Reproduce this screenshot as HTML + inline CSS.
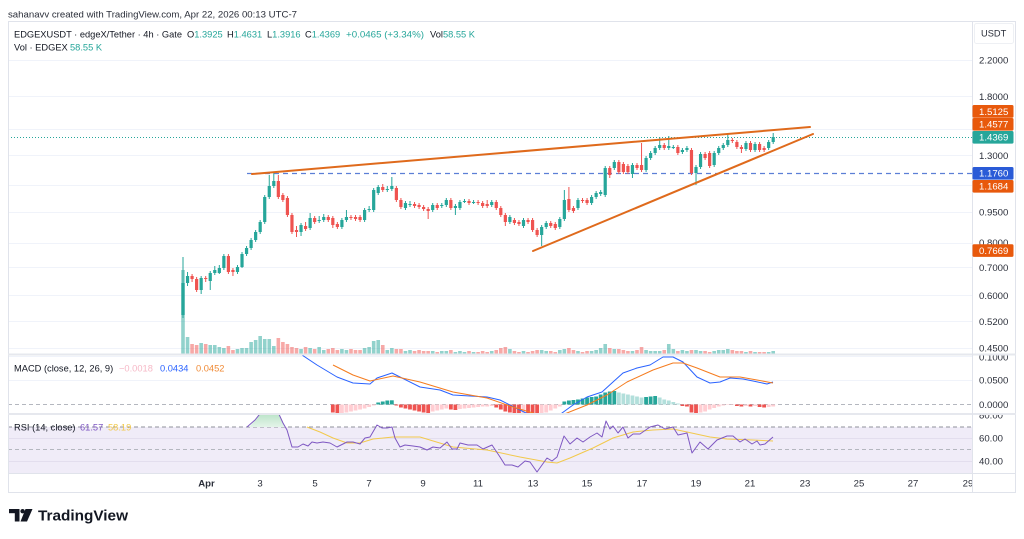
<!DOCTYPE html>
<html><head><meta charset="utf-8"><title>EDGEXUSDT chart</title>
<style>
html,body{margin:0;padding:0;background:#fff;}
body{width:1024px;height:539px;overflow:hidden;}
svg{display:block;font-family:"Liberation Sans",Arial,sans-serif;}
</style></head><body>
<svg id="s" width="1024" height="539" viewBox="0 0 1024 539" xmlns="http://www.w3.org/2000/svg">
<defs>
<clipPath id="cm"><rect x="8" y="22" width="964" height="332"/></clipPath>
<clipPath id="cmacd"><rect x="8" y="355.5" width="964" height="57.5"/></clipPath>
<clipPath id="crsi"><rect x="8" y="415" width="964" height="58"/></clipPath>
<clipPath id="cax1"><rect x="973" y="355.5" width="43" height="57.5"/></clipPath>
<clipPath id="cax2"><rect x="973" y="415" width="43" height="58"/></clipPath>
<clipPath id="ctime"><rect x="8" y="474" width="964" height="19"/></clipPath>
<linearGradient id="gf" x1="0" y1="0" x2="0" y2="1"><stop offset="0" stop-color="#a9dcba"/><stop offset="1" stop-color="#e4f4e9"/></linearGradient>
</defs>
<rect width="1024" height="539" fill="#fff"/>

<text x="8" y="17.3" font-size="9.6" fill="#2a2e39" textLength="289" lengthAdjust="spacingAndGlyphs">sahanavv created with TradingView.com, Apr 22, 2026 00:13 UTC-7</text>

<!-- main grid -->
<g stroke="#f0f3fa" stroke-width="1">
<line x1="8" x2="972" y1="60.5" y2="60.5"/>
<line x1="8" x2="972" y1="96.5" y2="96.5"/>
<line x1="8" x2="972" y1="129.5" y2="129.5"/>
<line x1="8" x2="972" y1="155.5" y2="155.5"/>
<line x1="8" x2="972" y1="185.5" y2="185.5"/>
<line x1="8" x2="972" y1="212.5" y2="212.5"/>
<line x1="8" x2="972" y1="243.5" y2="243.5"/>
<line x1="8" x2="972" y1="267.5" y2="267.5"/>
<line x1="8" x2="972" y1="295.5" y2="295.5"/>
<line x1="8" x2="972" y1="321.5" y2="321.5"/>
<line x1="8" x2="972" y1="348.5" y2="348.5"/>
<line x1="8" x2="972" y1="380.5" y2="380.5"/>
<line x1="8" x2="972" y1="356.5" y2="356.5"/>
</g>

<!-- RSI background -->
<rect x="8" y="427" width="964" height="46" fill="#f0ecf8"/>
<line x1="8" x2="972" y1="438.5" y2="438.5" stroke="#e3deee"/>
<line x1="8" x2="972" y1="461.5" y2="461.5" stroke="#e3deee"/>
<line x1="8" x2="972" y1="427" y2="427" stroke="#8f929b" stroke-dasharray="4 3"/>
<line x1="8" x2="972" y1="449.5" y2="449.5" stroke="#b4b7bf" stroke-dasharray="4 3"/>
<line x1="8" x2="972" y1="404.5" y2="404.5" stroke="#b4b7bf" stroke-dasharray="4 3"/>

<!-- legend -->
<g font-size="9.3" fill="#131722">
<text x="14" y="37.3" textLength="168" lengthAdjust="spacingAndGlyphs">EDGEXUSDT · edgeX/Tether · 4h · Gate</text>
<text x="187" y="37.3">O<tspan fill="#26a69a">1.3925</tspan></text>
<text x="227" y="37.3">H<tspan fill="#26a69a">1.4631</tspan></text>
<text x="267" y="37.3">L<tspan fill="#26a69a">1.3916</tspan></text>
<text x="305" y="37.3">C<tspan fill="#26a69a">1.4369</tspan></text>
<text x="346" y="37.3" fill="#26a69a" textLength="78" lengthAdjust="spacingAndGlyphs">+0.0465 (+3.34%)</text>
<text x="430" y="37.3">Vol<tspan fill="#26a69a">58.55 K</tspan></text>
<text x="14" y="50.5">Vol · EDGEX</text>
<text x="70" y="50.5" fill="#26a69a">58.55 K</text>
</g>

<!-- horizontal lines -->
<line x1="8" x2="972" y1="137.5" y2="137.5" stroke="#26a69a" stroke-width="1" stroke-dasharray="1 2"/>
<line x1="247" x2="972" y1="173.5" y2="173.5" stroke="#5c7fd6" stroke-width="1.2" stroke-dasharray="5 4"/>

<g id="vol" clip-path="url(#cm)"></g>
<g id="candles" clip-path="url(#cm)"></g>

<!-- trendlines -->
<g stroke-linecap="round">
<line x1="252" y1="174" x2="810" y2="127" stroke="#df6a1c" stroke-width="2"/>
<line x1="533" y1="251" x2="813" y2="134" stroke="#df6a1c" stroke-width="2"/>
</g>

<!-- MACD -->
<g id="hist" clip-path="url(#cmacd)"></g>
<g clip-path="url(#cmacd)" fill="none" stroke-width="1" stroke-linejoin="round">
<polyline stroke="#2962ff" points="296,346 302,355 317,365 337,377 353,383 370,384 377,378 392,373 400,377 420,387 440,390 453,395 487,397 500,400 520,410 530,415 545,420 555,418 562,413 573,405 587,397 602,392 613,382 623,373 637,368 650,365 663,357 673,357 683,362 697,377 710,383 720,382 730,378 743,379 753,381 767,384 773,382"/>
<polyline stroke="#f57c1f" points="333,365 353,375 370,381 393,376 420,382 453,392 487,398 513,407 543,416 555,417 567,413 587,405 607,395 627,382 653,370 673,363 683,363 697,368 720,377 740,377 757,380 773,383"/>
</g>
<g font-size="9.3">
<text x="14" y="371.3" fill="#131722">MACD (close, 12, 26, 9)</text>
<text x="119" y="371.3" fill="#f6b8c6">−0.0018</text>
<text x="160" y="371.3" fill="#2962ff">0.0434</text>
<text x="196" y="371.3" fill="#f08a35">0.0452</text>
</g>

<!-- RSI -->
<g clip-path="url(#crsi)">
<polygon points="249,427 255,420 263,410 270,408 278,412 283,423 285,427" fill="url(#gf)"/>
<polyline fill="none" stroke="#f2c94c" stroke-width="1" points="307,427 320,432 333,438 347,443 360,443 373,439 393,437 420,437 453,447 487,450 520,457 547,462 557,463 570,458 593,448 613,438 633,432 653,430 673,429 687,432 710,437 727,439 753,440 773,441"/>
<polyline fill="none" stroke="#7e57c2" stroke-width="1" stroke-linejoin="round" points="247,427 255,420 263,410 270,408 278,412 283,423 287,430 292,447 298,447 303,444 308,446 312,442 317,443 323,442 330,443 337,447 347,442 353,442 360,444 365,438 370,437 377,425 382,428 387,428 392,427 395,438 400,447 405,445 413,446 420,447 427,450 433,447 440,448 447,442 452,449 457,449 460,443 468,445 477,445 483,449 492,445 500,457 505,465 512,465 518,467 525,461 530,462 537,472 547,458 552,461 557,457 564,436 570,444 577,438 583,442 590,437 597,433 602,437 606,421 610,429 613,426 618,433 623,427 628,438 633,434 640,434 650,427 658,425 665,429 673,427 678,435 687,433 692,453 700,442 708,449 717,440 727,436 733,436 740,442 745,439 752,444 757,441 760,445 765,444 773,437"/>
</g>
<g font-size="9.3">
<text x="14" y="430.3" fill="#131722">RSI (14, close)</text>
<text x="80" y="430.3" fill="#7e57c2">61.57</text>
<text x="108" y="430.3" fill="#f2c94c">58.19</text>
</g>

<!-- frame / separators -->
<rect x="8.5" y="21.5" width="1007" height="471" fill="none" stroke="#e0e3eb"/>
<line x1="8" x2="1016" y1="354.5" y2="354.5" stroke="#e6e8ee" stroke-width="2"/>
<line x1="8" x2="1016" y1="414" y2="414" stroke="#e6e8ee" stroke-width="2"/>
<line x1="8" x2="1016" y1="473.5" y2="473.5" stroke="#e0e3eb"/>
<line x1="972.5" x2="972.5" y1="21.5" y2="492.5" stroke="#e0e3eb"/>

<!-- price axis -->
<rect x="974.5" y="23.5" width="39" height="20" rx="2" fill="none" stroke="#eef0f4"/>
<g font-size="9.6" fill="#2a2e39">
<text x="981" y="36.5" font-size="9.3">USDT</text>
<text x="979" y="63.5">2.2000</text>
<text x="979" y="99.8">1.8000</text>
<text x="979" y="158.8">1.3000</text>
<text x="979" y="215.6">0.9500</text>
<text x="979" y="245.8">0.8000</text>
<text x="979" y="271">0.7000</text>
<text x="979" y="299">0.6000</text>
<text x="979" y="325">0.5200</text>
<text x="979" y="351.3">0.4500</text>
<g clip-path="url(#cax1)">
<text x="979" y="360.3">0.1000</text>
<text x="979" y="383.5">0.0500</text>
<text x="979" y="408">0.0000</text>
</g>
<g clip-path="url(#cax2)">
<text x="979" y="418.5">80.00</text>
<text x="979" y="441.5">60.00</text>
<text x="979" y="464.5">40.00</text>
</g>
</g>
<g font-size="9.6" fill="#fff">
<rect x="972.5" y="105" width="41" height="12.8" rx="1.5" fill="#e8590c"/>
<text x="979" y="114.8">1.5125</text>
<rect x="972.5" y="118" width="41" height="12.6" rx="1.5" fill="#e8590c"/>
<text x="979" y="127.6">1.4577</text>
<rect x="972.5" y="131" width="41" height="12.6" rx="1.5" fill="#26a69a"/>
<text x="979" y="140.6">1.4369</text>
<rect x="972.5" y="167" width="41" height="12.6" rx="1.5" fill="#2a5bd7"/>
<text x="979" y="176.6">1.1760</text>
<rect x="972.5" y="180" width="41" height="12.6" rx="1.5" fill="#e8590c"/>
<text x="979" y="189.6">1.1684</text>
<rect x="972.5" y="244.3" width="41" height="12.6" rx="1.5" fill="#e8590c"/>
<text x="979" y="253.9">0.7669</text>
</g>

<!-- time axis -->
<g font-size="9.6" fill="#2a2e39" text-anchor="middle" clip-path="url(#ctime)">
<text x="206.5" y="486.5" font-weight="bold">Apr</text>
<text x="260" y="486.5">3</text>
<text x="315" y="486.5">5</text>
<text x="369" y="486.5">7</text>
<text x="423" y="486.5">9</text>
<text x="478" y="486.5">11</text>
<text x="533" y="486.5">13</text>
<text x="587" y="486.5">15</text>
<text x="642" y="486.5">17</text>
<text x="696" y="486.5">19</text>
<text x="750" y="486.5">21</text>
<text x="805" y="486.5">23</text>
<text x="859" y="486.5">25</text>
<text x="913" y="486.5">27</text>
<text x="968" y="486.5">29</text>
</g>

<!-- TradingView logo -->
<g fill="#131722">
<rect x="9" y="509" width="10.5" height="4.2"/>
<rect x="14.8" y="509" width="4.7" height="12.5"/>
<circle cx="22.6" cy="511.2" r="2.2"/>
<polygon points="25.5,509 32.5,509 27,521.5 20.5,521.5"/>
<text x="38" y="520.5" font-size="15.2" font-weight="bold" textLength="90" lengthAdjust="spacingAndGlyphs">TradingView</text>
</g>
</svg>
<script>
(function(){
var NS="http://www.w3.org/2000/svg";
var D=[[315,283,257,318],[283,276,272,286],[276,279,274,282],[279,290,277,292],[290,278,276,294],[278,279,276,282],[281,273,271,290],[273,270,266,275],[273,268,265,274],[268,256,254,270],
[256,272,254,274],[270,272,268,276],[272,267,265,274],[267,254,252,268],[254,248,246,256],[248,240,238,250],[240,232,230,242],[232,222,220,234],[222,197,195,224],[197,186,175,199],
[186,181,173,188],[181,197,175,199],[195,200,193,202],[198,215,196,217],[215,232,213,234],[230,232,226,237],[232,225,223,236],[226,229,222,231],[228,218,213,230],[218,222,216,224],
[220,220,216,223],[220,217,214,222],[217,220,215,222],[218,225,216,228],[224,227,222,229],[227,220,218,229],[220,217,210,222],[217,218,215,220],[217,219,215,221],[217,220,215,222],
[220,210,208,222],[210,209,206,212],[210,190,188,212],[193,187,185,195],[187,190,184,192],[189,189,186,192],[189,186,177,191],[188,200,186,202],[200,207,198,209],[208,203,201,210],
[204,204,201,207],[204,206,202,208],[205,207,203,209],[207,209,205,211],[209,211,207,219],[210,205,203,212],[205,208,203,210],[206,205,203,208],[205,200,198,207],[200,208,198,210],
[208,206,204,215],[208,202,200,210],[201,201,199,203],[201,203,199,205],[202,202,200,204],[202,203,200,205],[203,206,201,208],[204,206,200,208],[205,202,200,207],[202,208,200,210],
[208,215,206,217],[215,222,213,226],[222,217,215,224],[220,223,218,225],[222,224,220,226],[226,220,218,228],[220,222,218,224],[220,230,218,232],[230,235,228,237],[235,227,225,246],
[227,223,221,229],[223,226,221,228],[224,228,222,230],[227,219,217,229],[219,200,190,221],[199,210,187,212],[208,211,206,213],[208,200,198,210],[200,201,198,203],[200,203,198,205],
[203,197,195,205],[197,193,191,199],[194,192,190,196],[195,168,166,197],[168,175,166,178],[168,162,160,170],[162,172,160,174],[164,172,162,174],[166,172,164,174],[174,165,163,178],
[165,168,163,170],[165,170,143,172],[170,158,156,172],[158,153,151,160],[153,148,146,155],[148,145,137,150],[145,148,143,150],[148,146,136,150],[147,147,145,149],[147,153,145,155],
[152,150,148,154],[150,148,146,152],[150,173,148,175],[173,167,165,185],[167,154,152,169],[154,158,152,160],[153,166,151,168],[165,153,151,167],[153,148,146,155],[148,145,143,150],
[145,140,134,147],[140,141,138,143],[142,147,140,149],[147,149,145,153],[149,143,141,151],[143,150,141,152],[150,144,142,152],[144,150,142,152],[148,150,146,152],[148,142,140,150],
[142,137,133,144]];
var V=[84,17,10,9,11,10,9,9,7,6,8,4,5,6,6,12,14,18,15,15,8,16,12,10,7,6,5,7,6,5,7,4,5,6,4,5,4,5,4,4,6,7,13,14,9,4,6,5,5,3,4,3,4,3,3,3,2,3,3,4,2,3,2,3,2,2,3,2,3,4,6,7,5,3,2,3,2,3,4,4,3,3,2,4,5,6,4,3,2,3,3,4,6,10,6,5,5,4,3,3,4,7,4,3,3,3,4,10,5,3,4,3,4,4,3,3,2,3,4,4,5,4,3,3,2,3,2,2,2,2,3];
var H=[-8,-9,-8.5,-8,-7,-6,-5,-4,-2.5,-1,2,3,4,4.2,-1,-3,-4,-5,-6,-7,-8,-8.5,-7,-6,-5,-4,-5,-5.5,-4.5,-4,-3.5,-3,-2.5,-2,-2,-1.5,-3,-5,-7,-8,-9,-10,-10,-10.5,-11,-11.5,-11,-8,-6,-4,-2,3,4,4.5,5,6,7,7.5,8,10,12,13,13.5,12,11,10,9,8,7,7.5,8,8.5,7,5,4,2.5,1,-1.5,-2,-8,-9,-8,-7,-5,-3.5,-2,-1,-0.5,-0.5,-1.5,-2,-1.5,-2,-1.5,-2.5,-3,-2.5,-2];
function el(n,a,p){var e=document.createElementNS(NS,n);for(var k in a)e.setAttribute(k,a[k]);p.appendChild(e);return e;}
var gc=document.getElementById('candles'),gv=document.getElementById('vol'),gh=document.getElementById('hist');
for(var i=0;i<D.length;i++){
 var x=183+i*4.54,d=D[i],o=d[0],c=d[1],h=d[2],l=d[3];
 var up=c<=o;
 var col=up?'#26a69a':'#ef5350';
 var vh=V[i]||2;
 el('rect',{x:(x-1.8).toFixed(2),y:354-vh,width:3.6,height:vh,fill:up?'rgba(38,166,154,0.5)':'rgba(239,83,80,0.5)'},gv);
 el('line',{x1:x.toFixed(2),x2:x.toFixed(2),y1:h,y2:l,stroke:col,'stroke-width':1},gc);
 var top=Math.min(o,c),bh=Math.max(1,Math.abs(o-c));
 el('rect',{x:(x-1.6).toFixed(2),y:top,width:3.2,height:bh,fill:col},gc);
}
var prev=0;
for(var j=0;j<H.length;j++){
 var idx=33+j,x2=183+idx*4.54,v=H[j],cl;
 if(v>=0){cl=v>=prev?'#26a69a':'#b2dfdb';}else{cl=v<prev?'#ef5350':'#ffcdd2';}
 prev=v;
 el('rect',{x:(x2-1.9).toFixed(2),y:v>=0?404.5-v:404.5,width:3.8,height:Math.abs(v),fill:cl},gh);
}
})();
</script>
</body></html>
